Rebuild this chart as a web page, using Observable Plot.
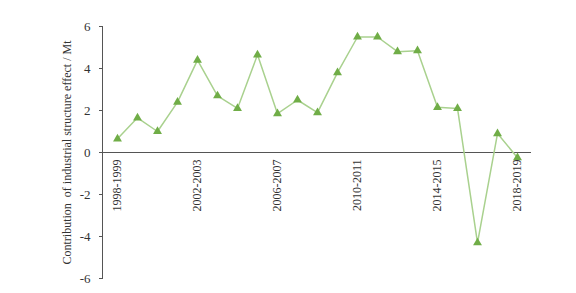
<!DOCTYPE html>
<html>
<head>
<meta charset="utf-8">
<script src="https://cdn.jsdelivr.net/npm/d3@7"></script>
<script src="https://cdn.jsdelivr.net/npm/@observablehq/plot@0.6"></script>
<style>
  body { margin: 0; background: #fff; }
  #chart svg, #chart svg text { font-family: "Liberation Serif", "Times New Roman", serif !important; }
</style>
</head>
<body>
<div id="chart"></div>
<script>
const periods = ["1998-1999","1999-2000","2000-2001","2001-2002","2002-2003","2003-2004","2004-2005","2005-2006","2006-2007","2007-2008","2008-2009","2009-2010","2010-2011","2011-2012","2012-2013","2013-2014","2014-2015","2015-2016","2016-2017","2017-2018","2018-2019"];
const values = [0.65, 1.65, 1.0, 2.4, 4.4, 2.7, 2.1, 4.65, 1.85, 2.5, 1.9, 3.8, 5.5, 5.5, 4.8, 4.85, 2.15, 2.1, -4.3, 0.9, -0.25];
const tickLabels = ["1998-1999","2002-2003","2006-2007","2010-2011","2014-2015","2018-2019"];
const yTicks = [-6, -4, -2, 0, 2, 4, 6];
const yTitle = "Contribution  of industrial structure effect / Mt";

const data = periods.map((p, i) => ({period: p, value: values[i]}));
const serif = "Liberation Serif, Times New Roman, serif";

const chart = Plot.plot({
  width: 576,
  height: 293,
  marginLeft: 102,
  marginRight: 45,
  marginTop: 26,
  marginBottom: 15,
  style: {fontFamily: serif, fontSize: "12px", color: "#333"},
  x: {type: "point", domain: periods, padding: 0.5, axis: null},
  y: {domain: [-6, 6], axis: null},
  marks: [
    Plot.frame({anchor: "left", stroke: "#555"}),
    Plot.axisY({ticks: yTicks, tickSize: 3, tickPadding: 9, tickFormat: d => String(d), label: null, stroke: "#555", fill: "#333", fontSize: 13, fontFamily: serif}),
    Plot.ruleY([0], {stroke: "#555", strokeWidth: 1}),
    Plot.text([yTitle], {frameAnchor: "left", dx: -35, rotate: -90, textAnchor: "middle", fontSize: 12, fill: "#333", fontFamily: serif}),
    Plot.line(data, {x: "period", y: "value", stroke: "#a9d18e", strokeWidth: 1.5}),
    Plot.dot(data, {x: "period", y: "value", symbol: "triangle", r: 3.3, fill: "#70ad47", stroke: "none"}),
    Plot.text(tickLabels, {x: d => d, y: 0, dy: 7, rotate: -90, textAnchor: "end", fontSize: 12, fill: "#333", fontFamily: serif})
  ]
});
document.getElementById("chart").appendChild(chart);
</script>
</body>
</html>
